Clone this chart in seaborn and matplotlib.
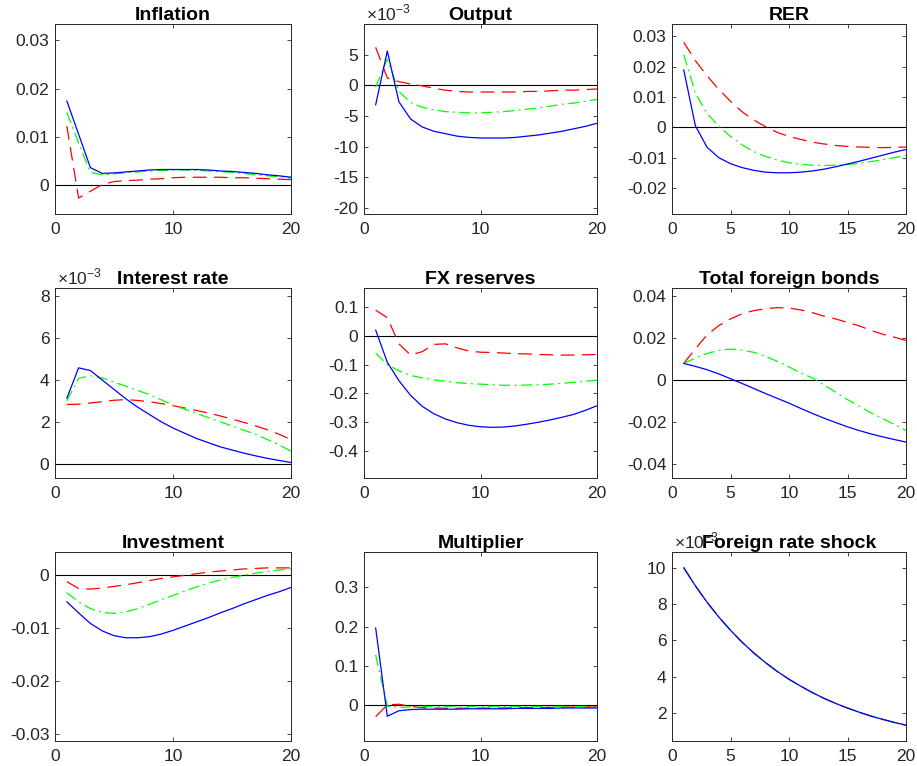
import matplotlib
matplotlib.use("Agg")
import matplotlib.pyplot as plt
import matplotlib.ticker as mticker
import seaborn as sns

sns.set_style("ticks")
plt.rcParams["font.family"] = ["Liberation Sans", "DejaVu Sans"]
plt.rcParams["axes.unicode_minus"] = False
plt.rcParams["mathtext.fontset"] = "custom"
plt.rcParams["mathtext.rm"] = "Liberation Sans"

# ---------------- data ----------------
t = list(range(1, 21))

titles = ["Inflation", "Output", "RER",
          "Interest rate", "FX reserves", "Total foreign bonds",
          "Investment", "Multiplier", "Foreign rate shock"]

# Inflation
infl_blue = [0.0175, 0.0106, 0.0037, 0.0025, 0.0026, 0.0028, 0.0030, 0.0032, 0.0033, 0.0033,
             0.0033, 0.0033, 0.0032, 0.0030, 0.0029, 0.0027, 0.0025, 0.0022, 0.0020, 0.0017]
infl_green = [0.0151, 0.0088, 0.0027, 0.0022, 0.0024, 0.0026, 0.0028, 0.0030, 0.0031, 0.0032,
              0.0032, 0.0031, 0.0030, 0.0029, 0.0027, 0.0025, 0.0022, 0.0020, 0.0018, 0.0015]
infl_red = [0.0123, -0.0026, -0.0012, 0.0002, 0.0008, 0.0010, 0.0011, 0.0013, 0.0014, 0.0016,
            0.0017, 0.0017, 0.0017, 0.0017, 0.0016, 0.0016, 0.0015, 0.0014, 0.0013, 0.0012]

# Output (x 1e-3)
out_blue = [-3.2, 5.6, -2.7, -5.5, -6.8, -7.5, -7.9, -8.3, -8.5, -8.6,
            -8.6, -8.6, -8.5, -8.3, -8.1, -7.8, -7.5, -7.1, -6.7, -6.2]
out_green = [-0.3, 4.3, -1.0, -2.8, -3.6, -4.0, -4.3, -4.4, -4.5, -4.5,
             -4.4, -4.3, -4.1, -3.9, -3.7, -3.4, -3.1, -2.9, -2.6, -2.3]
out_red = [6.2, 1.2, 0.6, 0.2, -0.1, -0.5, -0.8, -1.0, -1.1, -1.1,
           -1.1, -1.1, -1.1, -1.0, -1.0, -0.9, -0.8, -0.8, -0.7, -0.6]

# RER
rer_blue = [0.0190, 0.0005, -0.0066, -0.0100, -0.0120, -0.0133, -0.0142, -0.0148, -0.0150, -0.0150,
            -0.0148, -0.0144, -0.0138, -0.0130, -0.0121, -0.0112, -0.0102, -0.0092, -0.0082, -0.0073]
rer_green = [0.0240, 0.0113, 0.0045, 0.0004, -0.0030, -0.0058, -0.0080, -0.0096, -0.0108, -0.0117,
             -0.0122, -0.0125, -0.0126, -0.0125, -0.0123, -0.0119, -0.0113, -0.0107, -0.0100, -0.0093]
rer_red = [0.0281, 0.0220, 0.0170, 0.0125, 0.0086, 0.0051, 0.0024, 0.0002, -0.0017, -0.0030,
           -0.0040, -0.0049, -0.0055, -0.0060, -0.0063, -0.0065, -0.0066, -0.0067, -0.0066, -0.0065]

# Interest rate (x 1e-3)
ir_blue = [3.12, 4.58, 4.45, 4.00, 3.55, 3.10, 2.70, 2.35, 2.00, 1.70,
           1.45, 1.20, 1.00, 0.80, 0.65, 0.50, 0.37, 0.25, 0.15, 0.05]
ir_green = [3.00, 4.08, 4.20, 4.10, 3.90, 3.70, 3.50, 3.30, 3.05, 2.80,
            2.60, 2.40, 2.20, 2.00, 1.80, 1.60, 1.40, 1.15, 0.90, 0.59]
ir_red = [2.83, 2.84, 2.90, 2.96, 3.03, 3.06, 3.02, 2.96, 2.87, 2.77,
          2.66, 2.54, 2.42, 2.28, 2.13, 1.97, 1.80, 1.62, 1.40, 1.15]

# FX reserves
fx_blue = [0.020, -0.092, -0.156, -0.207, -0.245, -0.271, -0.289, -0.302, -0.311, -0.316,
           -0.318, -0.317, -0.313, -0.307, -0.300, -0.292, -0.283, -0.273, -0.259, -0.243]
fx_green = [-0.060, -0.100, -0.122, -0.138, -0.146, -0.153, -0.158, -0.163, -0.166, -0.168,
            -0.170, -0.172, -0.172, -0.171, -0.170, -0.168, -0.165, -0.162, -0.158, -0.154]
fx_red = [0.089, 0.063, -0.028, -0.067, -0.055, -0.030, -0.028, -0.042, -0.053, -0.057,
          -0.058, -0.060, -0.062, -0.063, -0.065, -0.066, -0.067, -0.067, -0.066, -0.065]

# Total foreign bonds
tfb_blue = [0.0079, 0.0065, 0.0049, 0.0029, 0.0006, -0.0017, -0.0041, -0.0065, -0.0088, -0.0111,
            -0.0136, -0.0160, -0.0183, -0.0204, -0.0224, -0.0242, -0.0258, -0.0272, -0.0285, -0.0297]
tfb_green = [0.0079, 0.0105, 0.0127, 0.0141, 0.0148, 0.0143, 0.0132, 0.0113, 0.0089, 0.0063,
             0.0033, 0.0010, -0.0025, -0.0059, -0.0094, -0.0125, -0.0157, -0.0184, -0.0213, -0.0241]
tfb_red = [0.0079, 0.0149, 0.0216, 0.0260, 0.0292, 0.0317, 0.0332, 0.0341, 0.0346, 0.0344,
           0.0335, 0.0322, 0.0305, 0.0292, 0.0275, 0.0259, 0.0237, 0.0219, 0.0205, 0.0189]

# Investment
inv_blue = [-0.0050, -0.0071, -0.0091, -0.0105, -0.0114, -0.0118, -0.0118, -0.0116, -0.0111, -0.0104,
            -0.0096, -0.0088, -0.0080, -0.0071, -0.0063, -0.0054, -0.0046, -0.0038, -0.0031, -0.0023]
inv_green = [-0.0033, -0.0050, -0.0063, -0.0070, -0.0072, -0.0069, -0.0063, -0.0055, -0.0046, -0.0038,
             -0.0030, -0.0022, -0.0015, -0.0009, -0.0004, 0.0000, 0.0004, 0.0007, 0.0010, 0.0012]
inv_red = [-0.0012, -0.0025, -0.0026, -0.0024, -0.0021, -0.0018, -0.0014, -0.0010, -0.0006, -0.0003,
           0.0000, 0.0003, 0.0006, 0.0008, 0.0010, 0.0012, 0.0013, 0.0014, 0.0014, 0.0014]

# Multiplier
mul_blue = [0.197, -0.028, -0.014, -0.011, -0.010, -0.010, -0.010, -0.010, -0.009, -0.009,
            -0.009, -0.009, -0.008, -0.008, -0.008, -0.008, -0.007, -0.007, -0.007, -0.007]
mul_green = [0.128, -0.002, -0.006, -0.004, -0.003, -0.003, -0.003, -0.003, -0.003, -0.003,
             -0.003, -0.003, -0.003, -0.003, -0.003, -0.003, -0.003, -0.003, -0.003, -0.003]
mul_red = [-0.029, 0.001, 0.0025, -0.003, -0.006, -0.007, -0.0076, -0.0076, -0.0075, -0.0073,
           -0.007, -0.0068, -0.0065, -0.006, -0.0058, -0.0055, -0.005, -0.0047, -0.0044, -0.004]

# Foreign rate shock (x 1e-3)
frs_blue = [10.0, 9.0, 8.1, 7.29, 6.56, 5.90, 5.31, 4.78, 4.30, 3.87,
            3.49, 3.14, 2.82, 2.54, 2.29, 2.06, 1.85, 1.67, 1.50, 1.35]
frs_green = list(frs_blue)
frs_red = list(frs_blue)

series = [
    (infl_red, infl_green, infl_blue),
    (out_red, out_green, out_blue),
    (rer_red, rer_green, rer_blue),
    (ir_red, ir_green, ir_blue),
    (fx_red, fx_green, fx_blue),
    (tfb_red, tfb_green, tfb_blue),
    (inv_red, inv_green, inv_blue),
    (mul_red, mul_green, mul_blue),
    (frs_red, frs_green, frs_blue),
]

ylims = [(-0.0059, 0.0334), (-21.0, 10.0), (-0.0286, 0.0341),
         (-0.69, 8.4), (-0.494, 0.166), (-0.0469, 0.0440),
         (-0.0313, 0.0044), (-0.091, 0.39), (0.48, 10.86)]
yticks = [[0, 0.01, 0.02, 0.03], [-20, -15, -10, -5, 0, 5], [-0.02, -0.01, 0, 0.01, 0.02, 0.03],
          [0, 2, 4, 6, 8], [-0.4, -0.3, -0.2, -0.1, 0, 0.1], [-0.04, -0.02, 0, 0.02, 0.04],
          [-0.03, -0.02, -0.01, 0], [0, 0.1, 0.2, 0.3], [2, 4, 6, 8, 10]]
scaled = [False, True, False, True, False, False, False, False, True]

# ---------------- layout ----------------
W, H = 917, 766
fig = plt.figure(figsize=(W / 100, H / 100), dpi=100)
col_px = [(55, 291), (364, 597), (672, 906)]
row_px = [(24, 214), (288, 478), (552, 741)]

colors = ["#ff0000", "#00ff00", "#0000ff"]
styles = [(0, (11, 6)), (0, (9, 3.5, 1.5, 3.5)), "-"]
ink = "#262626"

fmt = mticker.FuncFormatter(lambda v, p: "%g" % round(v, 6))

for i in range(9):
    r, c = divmod(i, 3)
    x0, x1 = col_px[c]
    y0, y1 = row_px[r]
    ax = fig.add_axes([x0 / W, 1 - y1 / H, (x1 - x0) / W, (y1 - y0) / H])
    ax.axhline(0, color="black", lw=0.8, zorder=1)
    for k, vals in enumerate(series[i]):
        sns.lineplot(x=t, y=vals, ax=ax, color=colors[k], linestyle=styles[k],
                     linewidth=0.9, zorder=2 + k, legend=False)
    ax.set_xlim(0, 20)
    ax.set_ylim(*ylims[i])
    ax.set_yticks(yticks[i])
    ax.set_xticks([0, 5, 10, 15, 20] if c == 2 else [0, 10, 20])
    ax.yaxis.set_major_formatter(fmt)
    ax.xaxis.set_major_formatter(fmt)
    ax.set_xlabel("")
    ax.set_ylabel("")
    ax.tick_params(direction="in", top=True, right=True, length=3, width=0.6,
                   labelsize=12.5, colors=ink, labelcolor=ink)
    ax.tick_params(axis="y", pad=4)
    ax.tick_params(axis="x", pad=6)
    for s in ax.spines.values():
        s.set_visible(True)
        s.set_linewidth(0.7)
        s.set_color(ink)
    ax.set_title(titles[i], fontsize=14, fontweight="bold", pad=3, color="black")
    if scaled[i]:
        ax.text(0.01, 1.005, r"$\times 10^{-3}$", transform=ax.transAxes,
                ha="left", va="bottom", fontsize=12.5, color=ink)

fig.savefig("out.png", dpi=100)
